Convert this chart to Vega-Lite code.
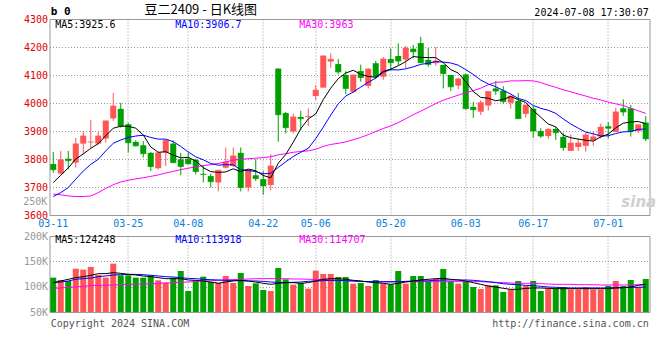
{
"$schema": "https://vega.github.io/schema/vega-lite/v6.json",
"autosize": {"type": "pad"},
"padding": {"left": 22.5, "top": 3, "right": 5, "bottom": 30},
"background": "white",
"bounds": "flush",
"spacing": 21,
"config": {
 "view": {"stroke": "#999999", "strokeWidth": 1},
 "axis": {"labelFont": "DejaVu Sans Mono", "labelFontSize": 10, "labelOverlap": false, "ticks": false, "domain": false, "title": null, "gridColor": "#999999", "gridDash": [1, 2], "gridWidth": 1},
 "text": {"font": "DejaVu Sans Mono", "fontSize": 10}
},
"datasets": {"k": [
{"d":"03-11","o":3782,"h":3825,"l":3751,"c":3762,"v":117800,"m5":3716,"m10":3666,"m30":3675,"vm5":107900,"vm10":107900,"vm30":96700},
{"d":"03-12","o":3748,"h":3829,"l":3745,"c":3797,"v":113200,"m5":3742,"m10":3680,"m30":3672,"vm5":111200,"vm10":109200,"vm30":97400},
{"d":"03-13","o":3801,"h":3829,"l":3763,"c":3794,"v":111200,"m5":3768,"m10":3698,"m30":3668,"vm5":114500,"vm10":111200,"vm30":98700},
{"d":"03-14","o":3787,"h":3875,"l":3769,"c":3854,"v":135500,"m5":3800,"m10":3728,"m30":3666,"vm5":117800,"vm10":114500,"vm30":99300},
{"d":"03-15","o":3855,"h":3900,"l":3817,"c":3882,"v":133600,"m5":3818,"m10":3757,"m30":3666,"vm5":119700,"vm10":115800,"vm30":100700},
{"d":"03-18","o":3860,"h":3939,"l":3838,"c":3861,"v":139000,"m5":3838,"m10":3781,"m30":3668,"vm5":122400,"vm10":117100,"vm30":102000},
{"d":"03-19","o":3855,"h":3898,"l":3852,"c":3882,"v":123000,"m5":3855,"m10":3799,"m30":3680,"vm5":125700,"vm10":119700,"vm30":102600},
{"d":"03-20","o":3873,"h":3937,"l":3858,"c":3936,"v":117800,"m5":3883,"m10":3829,"m30":3695,"vm5":125700,"vm10":121100,"vm30":102600},
{"d":"03-21","o":3945,"h":4036,"l":3936,"c":3989,"v":145400,"m5":3910,"m10":3856,"m30":3708,"vm5":127600,"vm10":123000,"vm30":103300},
{"d":"03-22","o":3979,"h":4001,"l":3912,"c":3918,"v":122400,"m5":3917,"m10":3868,"m30":3718,"vm5":126300,"vm10":123700,"vm30":103900},
{"d":"03-25","o":3924,"h":3929,"l":3823,"c":3858,"v":122400,"m5":3917,"m10":3877,"m30":3724,"vm5":124300,"vm10":124300,"vm30":104600},
{"d":"03-26","o":3861,"h":3867,"l":3844,"c":3847,"v":117800,"m5":3910,"m10":3882,"m30":3729,"vm5":123000,"vm10":124300,"vm30":104600},
{"d":"03-27","o":3849,"h":3864,"l":3805,"c":3819,"v":117800,"m5":3886,"m10":3885,"m30":3733,"vm5":121100,"vm10":123700,"vm30":105300},
{"d":"03-28","o":3822,"h":3825,"l":3757,"c":3773,"v":122400,"m5":3843,"m10":3877,"m30":3738,"vm5":119700,"vm10":122400,"vm30":105300},
{"d":"03-29","o":3767,"h":3826,"l":3762,"c":3822,"v":112500,"m5":3824,"m10":3871,"m30":3743,"vm5":117800,"vm10":121100,"vm30":106600},
{"d":"04-01","o":3823,"h":3867,"l":3775,"c":3867,"v":107900,"m5":3826,"m10":3871,"m30":3750,"vm5":115800,"vm10":119700,"vm30":107200},
{"d":"04-02","o":3855,"h":3867,"l":3785,"c":3787,"v":117800,"m5":3814,"m10":3862,"m30":3756,"vm5":115800,"vm10":119100,"vm30":107900},
{"d":"04-03","o":3799,"h":3822,"l":3742,"c":3773,"v":130900,"m5":3804,"m10":3845,"m30":3762,"vm5":115800,"vm10":117800,"vm30":108600},
{"d":"04-08","o":3801,"h":3822,"l":3780,"c":3783,"v":91400,"m5":3806,"m10":3825,"m30":3767,"vm5":113200,"vm10":116400,"vm30":109200},
{"d":"04-09","o":3797,"h":3801,"l":3745,"c":3755,"v":112500,"m5":3793,"m10":3808,"m30":3772,"vm5":112500,"vm10":115800,"vm30":110500},
{"d":"04-10","o":3747,"h":3778,"l":3716,"c":3745,"v":119700,"m5":3769,"m10":3797,"m30":3776,"vm5":111200,"vm10":114500,"vm30":111200},
{"d":"04-11","o":3739,"h":3748,"l":3698,"c":3719,"v":109200,"m5":3755,"m10":3784,"m30":3780,"vm5":109200,"vm10":113800,"vm30":111800},
{"d":"04-12","o":3716,"h":3760,"l":3684,"c":3760,"v":107900,"m5":3752,"m10":3778,"m30":3784,"vm5":106600,"vm10":113200,"vm30":112500},
{"d":"04-15","o":3769,"h":3841,"l":3766,"c":3789,"v":121100,"m5":3754,"m10":3780,"m30":3790,"vm5":109200,"vm10":112500,"vm30":113200},
{"d":"04-16","o":3775,"h":3841,"l":3772,"c":3811,"v":107200,"m5":3765,"m10":3779,"m30":3796,"vm5":111200,"vm10":112500,"vm30":113800},
{"d":"04-17","o":3822,"h":3841,"l":3684,"c":3698,"v":127000,"m5":3755,"m10":3762,"m30":3799,"vm5":112500,"vm10":111800,"vm30":114500},
{"d":"04-18","o":3698,"h":3760,"l":3684,"c":3760,"v":101300,"m5":3764,"m10":3759,"m30":3801,"vm5":111200,"vm10":111200,"vm30":115100},
{"d":"04-19","o":3742,"h":3799,"l":3722,"c":3730,"v":106600,"m5":3758,"m10":3755,"m30":3803,"vm5":109200,"vm10":111200,"vm30":115800},
{"d":"04-22","o":3728,"h":3757,"l":3672,"c":3704,"v":93400,"m5":3741,"m10":3747,"m30":3805,"vm5":106600,"vm10":110500,"vm30":115800},
{"d":"04-23","o":3707,"h":3817,"l":3688,"c":3775,"v":91400,"m5":3733,"m10":3749,"m30":3808,"vm5":104600,"vm10":109200,"vm30":115800},
{"d":"04-24","o":4123,"h":4123,"l":3862,"c":3958,"v":136800,"m5":3785,"m10":3770,"m30":3815,"vm5":106600,"vm10":108600,"vm30":115800},
{"d":"04-25","o":3964,"h":3968,"l":3891,"c":3912,"v":114500,"m5":3816,"m10":3790,"m30":3819,"vm5":107900,"vm10":107900,"vm30":115800},
{"d":"04-26","o":3898,"h":3962,"l":3891,"c":3950,"v":103900,"m5":3860,"m10":3809,"m30":3824,"vm5":107900,"vm10":108600,"vm30":115100},
{"d":"04-29","o":3950,"h":3972,"l":3903,"c":3944,"v":107200,"m5":3908,"m10":3824,"m30":3827,"vm5":106600,"vm10":109200,"vm30":115100},
{"d":"04-30","o":3950,"h":3981,"l":3918,"c":3952,"v":96100,"m5":3943,"m10":3838,"m30":3829,"vm5":107900,"vm10":110500,"vm30":114500},
{"d":"05-06","o":4025,"h":4064,"l":4011,"c":4046,"v":131600,"m5":3961,"m10":3873,"m30":3835,"vm5":111200,"vm10":111200,"vm30":114500},
{"d":"05-07","o":4055,"h":4171,"l":4055,"c":4168,"v":125000,"m5":4012,"m10":3914,"m30":3845,"vm5":114500,"vm10":111800,"vm30":113800},
{"d":"05-08","o":4148,"h":4177,"l":4126,"c":4156,"v":125000,"m5":4053,"m10":3957,"m30":3852,"vm5":115800,"vm10":112500,"vm30":113200},
{"d":"05-09","o":4139,"h":4157,"l":4102,"c":4111,"v":119100,"m5":4087,"m10":3997,"m30":3856,"vm5":115800,"vm10":112500,"vm30":112500},
{"d":"05-10","o":4100,"h":4114,"l":4031,"c":4052,"v":119100,"m5":4107,"m10":4025,"m30":3861,"vm5":114500,"vm10":111800,"vm30":111800},
{"d":"05-13","o":4040,"h":4102,"l":4037,"c":4100,"v":105900,"m5":4117,"m10":4039,"m30":3869,"vm5":112500,"vm10":111200,"vm30":111200},
{"d":"05-14","o":4114,"h":4137,"l":4076,"c":4091,"v":107200,"m5":4102,"m10":4057,"m30":3877,"vm5":111200,"vm10":110500,"vm30":110500},
{"d":"05-15","o":4061,"h":4125,"l":4052,"c":4121,"v":101300,"m5":4095,"m10":4074,"m30":3887,"vm5":109200,"vm10":109900,"vm30":109900},
{"d":"05-16","o":4142,"h":4150,"l":4085,"c":4094,"v":113200,"m5":4092,"m10":4089,"m30":3898,"vm5":107900,"vm10":109900,"vm30":109200},
{"d":"05-17","o":4094,"h":4164,"l":4083,"c":4157,"v":105900,"m5":4113,"m10":4110,"m30":3909,"vm5":106600,"vm10":109900,"vm30":109200},
{"d":"05-20","o":4157,"h":4195,"l":4117,"c":4144,"v":104600,"m5":4121,"m10":4119,"m30":3918,"vm5":104600,"vm10":109900,"vm30":109200},
{"d":"05-21","o":4168,"h":4213,"l":4135,"c":4150,"v":130900,"m5":4133,"m10":4118,"m30":3930,"vm5":106600,"vm10":109900,"vm30":109900},
{"d":"05-22","o":4155,"h":4204,"l":4124,"c":4196,"v":105900,"m5":4148,"m10":4122,"m30":3944,"vm5":109200,"vm10":110500,"vm30":109900},
{"d":"05-23","o":4194,"h":4207,"l":4160,"c":4183,"v":121100,"m5":4166,"m10":4129,"m30":3958,"vm5":111200,"vm10":111200,"vm30":109900},
{"d":"05-24","o":4214,"h":4236,"l":4142,"c":4144,"v":121100,"m5":4163,"m10":4138,"m30":3971,"vm5":113200,"vm10":111200,"vm30":109900},
{"d":"05-27","o":4154,"h":4196,"l":4130,"c":4138,"v":111200,"m5":4162,"m10":4142,"m30":3984,"vm5":114500,"vm10":111800,"vm30":109900},
{"d":"05-28","o":4142,"h":4200,"l":4133,"c":4150,"v":115100,"m5":4162,"m10":4148,"m30":3998,"vm5":115800,"vm10":112500,"vm30":109900},
{"d":"05-29","o":4136,"h":4136,"l":4052,"c":4105,"v":134900,"m5":4144,"m10":4146,"m30":4010,"vm5":116400,"vm10":113200,"vm30":109900},
{"d":"05-30","o":4100,"h":4100,"l":4043,"c":4058,"v":111200,"m5":4119,"m10":4143,"m30":4019,"vm5":114500,"vm10":113200,"vm30":109900},
{"d":"05-31","o":4062,"h":4090,"l":4049,"c":4086,"v":105900,"m5":4107,"m10":4135,"m30":4028,"vm5":113200,"vm10":113200,"vm30":109900},
{"d":"06-03","o":4102,"h":4105,"l":3976,"c":3980,"v":111200,"m5":4076,"m10":4119,"m30":4037,"vm5":111200,"vm10":113200,"vm30":109900},
{"d":"06-04","o":3986,"h":4004,"l":3947,"c":3976,"v":99300,"m5":4041,"m10":4102,"m30":4044,"vm5":107900,"vm10":112500,"vm30":109900},
{"d":"06-05","o":3969,"h":4010,"l":3957,"c":4001,"v":95400,"m5":4020,"m10":4082,"m30":4053,"vm5":104600,"vm10":111200,"vm30":109900},
{"d":"06-06","o":3991,"h":4043,"l":3972,"c":4041,"v":102600,"m5":4017,"m10":4068,"m30":4065,"vm5":101300,"vm10":109900,"vm30":109200},
{"d":"06-07","o":4052,"h":4079,"l":4029,"c":4043,"v":102600,"m5":4008,"m10":4058,"m30":4074,"vm5":99300,"vm10":107900,"vm30":108600},
{"d":"06-11","o":4044,"h":4060,"l":3998,"c":4005,"v":89500,"m5":4013,"m10":4045,"m30":4075,"vm5":96700,"vm10":105900,"vm30":107900},
{"d":"06-12","o":4001,"h":4027,"l":3980,"c":4025,"v":94700,"m5":4023,"m10":4032,"m30":4079,"vm5":94700,"vm10":104600,"vm30":107200},
{"d":"06-13","o":4007,"h":4036,"l":3944,"c":3944,"v":111200,"m5":4012,"m10":4016,"m30":4079,"vm5":94700,"vm10":103900,"vm30":106600},
{"d":"06-14","o":3961,"h":3993,"l":3947,"c":3993,"v":101300,"m5":4002,"m10":4009,"m30":4080,"vm5":96700,"vm10":102600,"vm30":106600},
{"d":"06-17","o":3980,"h":3989,"l":3876,"c":3900,"v":111200,"m5":3973,"m10":3991,"m30":4079,"vm5":97400,"vm10":102000,"vm30":106600},
{"d":"06-18","o":3900,"h":3910,"l":3876,"c":3882,"v":91400,"m5":3949,"m10":3981,"m30":4073,"vm5":97400,"vm10":100700,"vm30":105900},
{"d":"06-19","o":3882,"h":3910,"l":3872,"c":3906,"v":96700,"m5":3925,"m10":3974,"m30":4064,"vm5":96700,"vm10":99300,"vm30":105300},
{"d":"06-20","o":3907,"h":3914,"l":3868,"c":3894,"v":96700,"m5":3915,"m10":3963,"m30":4056,"vm5":96100,"vm10":98700,"vm30":104600},
{"d":"06-21","o":3879,"h":3894,"l":3829,"c":3841,"v":99300,"m5":3885,"m10":3943,"m30":4047,"vm5":96100,"vm10":98000,"vm30":104600},
{"d":"06-24","o":3829,"h":3888,"l":3829,"c":3857,"v":94700,"m5":3876,"m10":3925,"m30":4040,"vm5":96100,"vm10":97400,"vm30":104600},
{"d":"06-25","o":3843,"h":3874,"l":3829,"c":3857,"v":94700,"m5":3871,"m10":3910,"m30":4032,"vm5":96100,"vm10":97400,"vm30":103900},
{"d":"06-26","o":3847,"h":3894,"l":3826,"c":3886,"v":99300,"m5":3867,"m10":3896,"m30":4025,"vm5":96100,"vm10":97400,"vm30":103900},
{"d":"06-27","o":3867,"h":3900,"l":3847,"c":3879,"v":94700,"m5":3864,"m10":3890,"m30":4017,"vm5":96100,"vm10":97400,"vm30":103900},
{"d":"06-28","o":3880,"h":3926,"l":3873,"c":3914,"v":94700,"m5":3879,"m10":3882,"m30":4011,"vm5":96100,"vm10":97400,"vm30":103300},
{"d":"07-01","o":3917,"h":3932,"l":3873,"c":3910,"v":101300,"m5":3889,"m10":3883,"m30":4003,"vm5":96100,"vm10":97400,"vm30":103300},
{"d":"07-02","o":3897,"h":3983,"l":3897,"c":3968,"v":111200,"m5":3911,"m10":3891,"m30":3997,"vm5":97400,"vm10":98000,"vm30":103300},
{"d":"07-03","o":3981,"h":4013,"l":3954,"c":3968,"v":101300,"m5":3928,"m10":3897,"m30":3991,"vm5":98000,"vm10":98000,"vm30":103300},
{"d":"07-04","o":3981,"h":3993,"l":3880,"c":3900,"v":113200,"m5":3932,"m10":3898,"m30":3981,"vm5":99300,"vm10":98700,"vm30":103300},
{"d":"07-05","o":3900,"h":3922,"l":3893,"c":3922,"v":99300,"m5":3934,"m10":3906,"m30":3972,"vm5":102600,"vm10":98700,"vm30":103900},
{"d":"07-08","o":3930,"h":3954,"l":3864,"c":3872,"v":115100,"m5":3926,"m10":3907,"m30":3963,"vm5":104600,"vm10":99300,"vm30":103900}
]},
"vconcat": [
{
 "width": 600, "height": 196,
 "layer": [
  {"data": {"name": "k"}, "mark": {"type": "rule", "strokeWidth": 1},
   "encoding": {
    "x": {"field": "d", "type": "ordinal", "sort": null, "scale": {"type": "band", "paddingInner": 0, "paddingOuter": 0},
      "axis": {"values": ["03-11","03-25","04-08","04-22","05-06","05-20","06-03","06-17","07-01"], "labelColor": "#0a80d8", "labelAngle": 0, "labelPadding": 3, "labelOverlap": false, "grid": true, "bandPosition": 0.5,
        "gridOpacity": {"condition": {"test": "datum.value === '03-11'", "value": 0}, "value": 1}}},
    "y": {"field": "l", "type": "quantitative", "scale": {"domain": [3600, 4300], "zero": false, "nice": false},
      "axis": {"values": [3600,3700,3800,3900,4000,4100,4200,4300], "tickCount": 20, "format": "d", "labelColor": "#e00000", "labelPadding": 2, "labelOverlap": false, "labelBound": false, "grid": true}},
    "y2": {"field": "h"},
    "color": {"condition": {"test": "datum.c >= datum.o", "value": "#ff5555"}, "value": "#00a000"}
   }},
  {"data": {"name": "k"}, "mark": {"type": "bar", "width": 6},
   "encoding": {
    "x": {"field": "d", "type": "ordinal", "sort": null},
    "y": {"field": "o", "type": "quantitative"},
    "y2": {"field": "c"},
    "color": {"condition": {"test": "datum.c >= datum.o", "value": "#ff5555"}, "value": "#00a000"}
   }},
  {"data": {"name": "k"}, "mark": {"type": "tick", "thickness": 1, "size": 6},
   "encoding": {
    "x": {"field": "d", "type": "ordinal", "sort": null},
    "y": {"field": "c", "type": "quantitative"},
    "color": {"condition": {"test": "datum.c >= datum.o", "value": "#ff5555"}, "value": "#00a000"}
   }},
  {"data": {"name": "k"}, "mark": {"type": "line", "strokeWidth": 1, "color": "#ff00ff"},
   "encoding": {"x": {"field": "d", "type": "ordinal", "sort": null}, "y": {"field": "m30", "type": "quantitative"}}},
  {"data": {"name": "k"}, "mark": {"type": "line", "strokeWidth": 1, "color": "#0000ff"},
   "encoding": {"x": {"field": "d", "type": "ordinal", "sort": null}, "y": {"field": "m10", "type": "quantitative"}}},
  {"data": {"name": "k"}, "mark": {"type": "line", "strokeWidth": 1, "color": "#000000"},
   "encoding": {"x": {"field": "d", "type": "ordinal", "sort": null}, "y": {"field": "m5", "type": "quantitative"}}},
  {"data": {"values": [{"t": "b 0"}]}, "mark": {"type": "text", "align": "left", "dx": -2.5, "dy": -7, "fontSize": 11, "fontWeight": "bold", "color": "#000000"},
   "encoding": {"x": {"datum": "03-11"}, "y": {"datum": 4300, "type": "quantitative"}, "text": {"field": "t"}}},
  {"data": {"values": [{"t": "豆二2409 - 日K线图"}]}, "mark": {"type": "text", "align": "center", "dx": -2.5, "dy": -9, "font": "Noto Sans CJK SC", "fontSize": 13, "color": "#000000"},
   "encoding": {"x": {"datum": "04-10"}, "y": {"datum": 4300, "type": "quantitative"}, "text": {"field": "t"}}},
  {"data": {"values": [{"t": "2024-07-08 17:30:07"}]}, "mark": {"type": "text", "align": "right", "dx": 3, "dy": -6, "color": "#000000"},
   "encoding": {"x": {"datum": "07-08"}, "y": {"datum": 4300, "type": "quantitative"}, "text": {"field": "t"}}},
  {"data": {"values": [{"t": "MA5:3925.6"}]}, "mark": {"type": "text", "align": "left", "dx": 2, "dy": 6, "color": "#000000"},
   "encoding": {"x": {"datum": "03-11"}, "y": {"datum": 4300, "type": "quantitative"}, "text": {"field": "t"}}},
  {"data": {"values": [{"t": "MA10:3906.7"}]}, "mark": {"type": "text", "align": "left", "dx": 2, "dy": 6, "color": "#0000ff"},
   "encoding": {"x": {"datum": "04-02"}, "y": {"datum": 4300, "type": "quantitative"}, "text": {"field": "t"}}},
  {"data": {"values": [{"t": "MA30:3963"}]}, "mark": {"type": "text", "align": "left", "dx": -1.5, "dy": 6, "color": "#ff00ff"},
   "encoding": {"x": {"datum": "04-29"}, "y": {"datum": 4300, "type": "quantitative"}, "text": {"field": "t"}}},
  {"data": {"values": [{"t": "sina"}]}, "mark": {"type": "text", "align": "center", "dx": 8, "font": "DejaVu Sans", "fontSize": 15, "fontWeight": "bold", "fontStyle": "italic", "color": "#d0d0d0"},
   "encoding": {"x": {"datum": "07-04"}, "y": {"datum": 3646, "type": "quantitative"}, "text": {"field": "t"}}}
 ]
},
{
 "width": 600, "height": 76,
 "layer": [
  {"data": {"name": "k"}, "mark": {"type": "bar", "width": 6},
   "encoding": {
    "x": {"field": "d", "type": "ordinal", "sort": null, "scale": {"type": "band", "paddingInner": 0, "paddingOuter": 0},
      "axis": {"values": ["03-11","03-25","04-08","04-22","05-06","05-20","06-03","06-17","07-01"], "labels": false, "grid": true, "bandPosition": 0.5,
        "gridOpacity": {"condition": {"test": "datum.value === '03-11'", "value": 0}, "value": 1}}},
    "y": {"field": "v", "type": "quantitative", "scale": {"domain": [50000, 200000], "zero": false, "nice": false},
      "axis": {"values": [50000,100000,150000,200000], "tickCount": 20, "labelExpr": "(datum.value / 1000) + 'K'", "labelColor": "#999999", "labelPadding": 2, "labelOverlap": false, "labelBound": false, "grid": true,
        "gridOpacity": {"condition": {"test": "datum.value <= 50000 || datum.value >= 200000", "value": 0}, "value": 1}}},
    "y2": {"datum": 50000},
    "color": {"condition": {"test": "datum.c >= datum.o", "value": "#ff5555"}, "value": "#00a000"}
   }},
  {"data": {"name": "k"}, "mark": {"type": "line", "strokeWidth": 1, "color": "#ff00ff"},
   "encoding": {"x": {"field": "d", "type": "ordinal", "sort": null}, "y": {"field": "vm30", "type": "quantitative"}}},
  {"data": {"name": "k"}, "mark": {"type": "line", "strokeWidth": 1, "color": "#0000ff"},
   "encoding": {"x": {"field": "d", "type": "ordinal", "sort": null}, "y": {"field": "vm10", "type": "quantitative"}}},
  {"data": {"name": "k"}, "mark": {"type": "line", "strokeWidth": 1, "color": "#000000"},
   "encoding": {"x": {"field": "d", "type": "ordinal", "sort": null}, "y": {"field": "vm5", "type": "quantitative"}}},
  {"data": {"values": [{"t": "MA5:124248"}]}, "mark": {"type": "text", "align": "left", "dx": 2, "dy": 4, "color": "#000000"},
   "encoding": {"x": {"datum": "03-11"}, "y": {"datum": 200000, "type": "quantitative"}, "text": {"field": "t"}}},
  {"data": {"values": [{"t": "MA10:113918"}]}, "mark": {"type": "text", "align": "left", "dx": 2, "dy": 4, "color": "#0000ff"},
   "encoding": {"x": {"datum": "04-02"}, "y": {"datum": 200000, "type": "quantitative"}, "text": {"field": "t"}}},
  {"data": {"values": [{"t": "MA30:114707"}]}, "mark": {"type": "text", "align": "left", "dx": -1.5, "dy": 4, "color": "#ff00ff"},
   "encoding": {"x": {"datum": "04-29"}, "y": {"datum": 200000, "type": "quantitative"}, "text": {"field": "t"}}},
  {"data": {"values": [{"t": "250K"}]}, "mark": {"type": "text", "align": "right", "dx": -6, "dy": -9, "color": "#999999"},
   "encoding": {"x": {"datum": "03-11"}, "y": {"datum": 250000, "type": "quantitative"}, "text": {"field": "t"}}},
  {"data": {"values": [{"t": "Copyright 2024 SINA.COM"}]}, "mark": {"type": "text", "align": "left", "dx": -2.5, "dy": 12, "color": "#555555"},
   "encoding": {"x": {"datum": "03-11"}, "y": {"datum": 50000, "type": "quantitative"}, "text": {"field": "t"}}},
  {"data": {"values": [{"t": "http://finance.sina.com.cn"}]}, "mark": {"type": "text", "align": "right", "dx": 3, "dy": 12, "color": "#555555"},
   "encoding": {"x": {"datum": "07-08"}, "y": {"datum": 50000, "type": "quantitative"}, "text": {"field": "t"}}}
 ]
}
]
}
